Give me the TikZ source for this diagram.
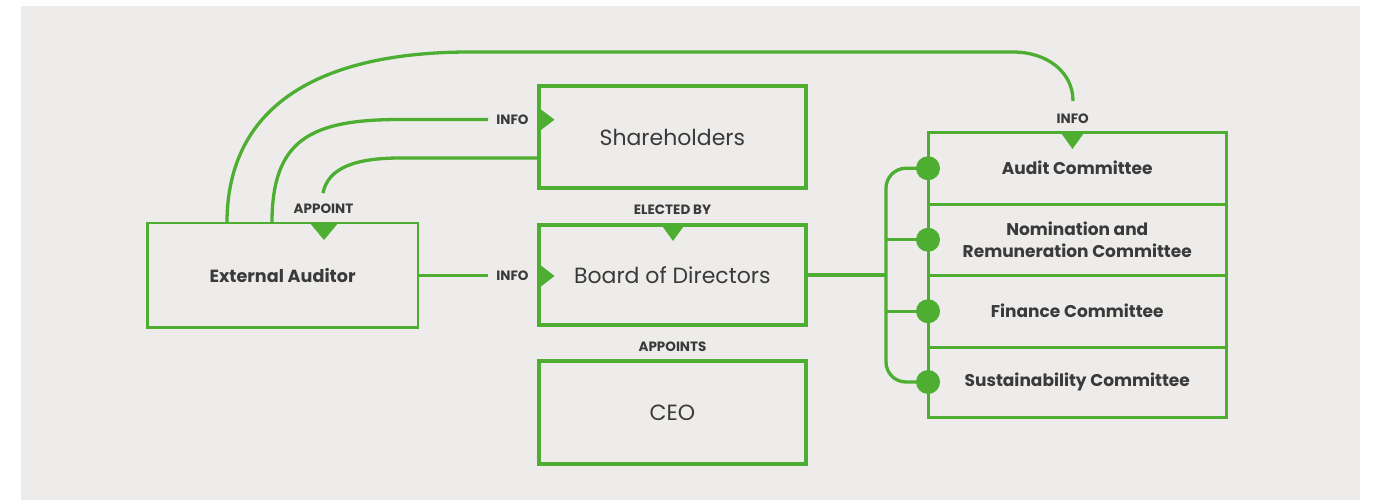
\documentclass[tikz,border=0pt]{standalone}
\usepackage{fontspec}
\setmainfont{Poppins}
\usetikzlibrary{calc}
\definecolor{gr}{RGB}{77,174,50}
\definecolor{bg}{RGB}{237,236,234}
\definecolor{tx}{RGB}{58,58,58}
\begin{document}
\begin{tikzpicture}[x=1pt,y=-1pt,
  conn/.style={draw=gr, line width=3.3pt},
  bigbox/.style={draw=gr, line width=4pt, minimum width=267.3pt, minimum height=102pt,
    outer sep=0pt, inner sep=0pt, text=tx, font=\fontsize{22}{26}\selectfont},
  extbox/.style={draw=gr, line width=2.6pt, minimum width=270.75pt, minimum height=104.75pt,
    outer sep=0pt, inner sep=0pt, text=tx, font=\bfseries\fontsize{17.6}{21}\selectfont},
  cell/.style={draw=gr, line width=3pt, minimum width=298.5pt, outer sep=0pt, inner sep=0pt,
    text=tx, align=center, font=\bfseries\fontsize{17}{22.7}\selectfont},
  lbl/.style={text=tx, inner sep=0pt, font=\bfseries\fontsize{13.5}{15}\selectfont},
  tri/.style={fill=gr},
  dot/.style={circle, fill=gr, minimum size=24pt, inner sep=0pt}]
\useasboundingbox (0,0) rectangle (1380,500);
\fill[bg] (21,6) rectangle (1360,500);

% boxes
\node[bigbox] (sh) at (672.35,137) {Shareholders};
\node[bigbox, minimum height=100.6pt] (board) at (672.35,275) {Board of Directors};
\node[bigbox, minimum height=102.7pt] (ceo) at (672.35,412.7) {CEO};
\node[extbox] (ext) at (282.6,275.4) {External Auditor};

\node[cell, minimum height=71.5pt] (audit) at (1077.25,168.25) {Audit Committee};
\node[cell, minimum height=71.5pt] (nom) at (1077.25,239.75) {Nomination and\\Remuneration Committee};
\node[cell, minimum height=71.5pt] (fin) at (1077.25,311.25) {Finance Committee};
\node[cell, minimum height=70pt] (sus) at (1077.25,382) {\raisebox{-2.5pt}{Sustainability Committee}};

% labels
\node[lbl] (l1) at (512.5,119.5) {INFO};
\node[lbl] (l2) at (512.5,276) {INFO};
\node[lbl] (l3) at (323.5,208.3) {APPOINT};
\node[lbl] (l4) at (672.5,209.3) {ELECTED BY};
\node[lbl] (l5) at (672.5,346.7) {APPOINTS};
\node[lbl] (l6) at (1072.7,118.3) {INFO};

% coordinates
\coordinate (e1) at ($(ext.north west)+(79.75,0)$);
\coordinate (e2) at ($(ext.north west)+(124.75,0)$);
\coordinate (cinfo) at (1073,101);
\coordinate (shinfo) at (488,119.5);
\coordinate (ap) at (323,193);
\coordinate (s3) at ($(sh.south west)+(0,-30)$);
\coordinate (einfo) at (488,275.4);
\coordinate (bx) at (886,275);

% connectors
\draw[conn] (e1) .. controls (227,105) and (320,52) .. (470,52) -- (1013,52)
  .. controls (1047,52) and (1073,72) .. (cinfo);
\draw[conn] (e2) .. controls (272,140) and (310,119.5) .. (400,119.5) -- (shinfo);
\draw[conn] (s3) -- (400,158) .. controls (355,158) and (328,168) .. (ap);
\draw[conn] (ext.east) -- (einfo);
\draw[conn] (board.east) -- (board.east -| bx);
\draw[conn, rounded corners=20pt] (audit.west) -- (audit.west -| bx) -- (sus.west -| bx) -- (sus.west);
\draw[conn] (nom.west -| bx) -- (nom.west);
\draw[conn] (fin.west -| bx) -- (fin.west);

% dots
\node[dot] (d1) at (audit.west) {};
\node[dot] (d2) at (nom.west) {};
\node[dot] (d3) at (fin.west) {};
\node[dot] (d4) at (sus.west) {};

% arrow triangles
\fill[tri] (537,106.5) -- (554.5,119.7) -- (537,133) -- cycle;
\fill[tri] (537,262.5) -- (554.5,276) -- (537,289.5) -- cycle;
\fill[tri] (309,222) -- (324,240) -- (339,222) -- cycle;
\fill[tri] (660,223) -- (673,241) -- (686,223) -- cycle;
\fill[tri] (1060,131.5) -- (1072.5,149) -- (1085,131.5) -- cycle;
\end{tikzpicture}
\end{document}
